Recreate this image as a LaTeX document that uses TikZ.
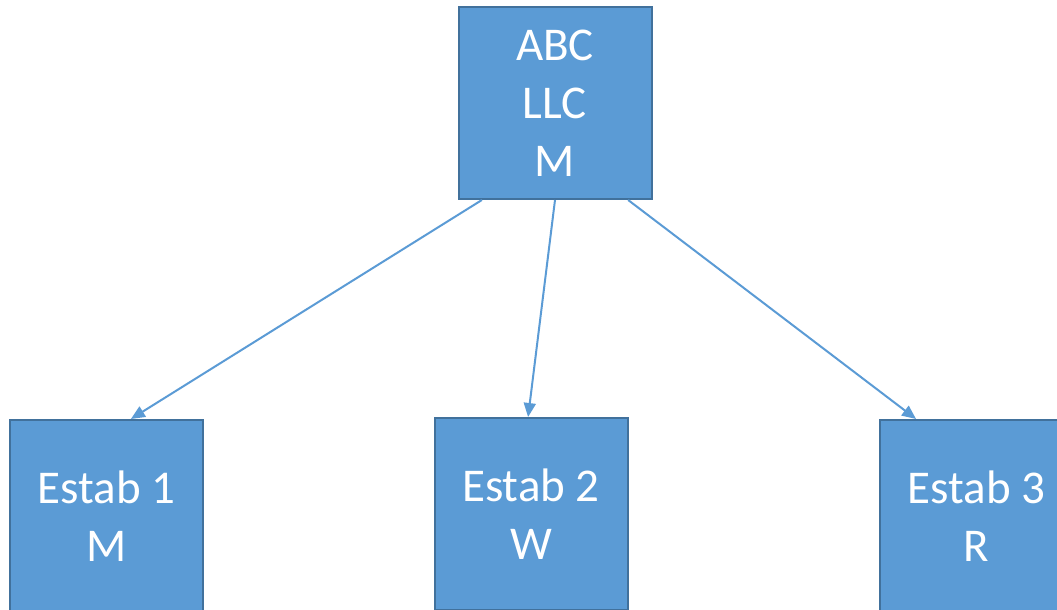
\documentclass[tikz,border=0pt]{standalone}
\usepackage{fontspec}
\setmainfont{Carlito}
\usetikzlibrary{arrows.meta,calc}
\definecolor{boxfill}{HTML}{5B9BD5}
\definecolor{boxline}{HTML}{41719C}
\begin{document}
\begin{tikzpicture}[x=1pt,y=-1pt,
  orgbox/.style={draw=boxline,line width=2pt,fill=boxfill,text=white,
    minimum width=193pt,minimum height=192pt,inner sep=0pt,align=center,
    font=\fontsize{47}{58}\selectfont},
  link/.style={draw=boxfill,line width=2pt,-{Triangle[length=14pt,width=12pt]}}]
\useasboundingbox (0,0) rectangle (1057,610);
\node[orgbox] (top) at (555,103) {ABC\\LLC\\M};
\node[orgbox] (e1) at (106.5,516) {Estab 1\\M};
\node[orgbox] (e2) at (531,514) {Estab 2\\W};
\node[orgbox] (e3) at (976.5,516) {Estab 3\\R};
\draw[link] ($(top.south west)!0.125!(top.south east)$) -- ($(e1.north west)!0.625!(e1.north east)$);
\draw[link] (top.south) -- ($(e2.north west)!0.485!(e2.north east)$);
\draw[link] ($(top.south west)!0.875!(top.south east)$) -- ($(e3.north west)!0.19!(e3.north east)$);
\end{tikzpicture}
\end{document}
